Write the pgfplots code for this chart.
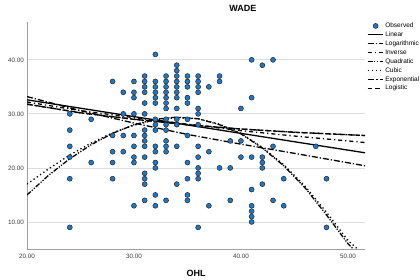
\documentclass[border=0pt]{standalone}
\usepackage{pgfplots}
\pgfplotsset{compat=1.18}
\usepackage{fontspec}
\setmainfont{Liberation Sans}
\definecolor{obsblue}{RGB}{31,119,200}
\definecolor{axgray}{RGB}{160,160,160}
\definecolor{gridgray}{RGB}{222,222,222}
\definecolor{ticktext}{RGB}{60,60,60}
\pgfplotsset{
  linelegend/.style={legend image code/.code={\draw[##1] (0pt,0pt) -- (15pt,0pt);}},
  obslegend/.style={legend image code/.code={\path[draw=none] (0pt,0pt) -- (15pt,0pt); \path[##1,draw=none] plot[only marks] coordinates {(8pt,0pt)};}},
  fitline/.style={black, line width=1.3pt, linelegend},
}
\begin{document}
\begin{tikzpicture}[x=1pt,y=1pt]
\useasboundingbox (0,0) rectangle (420,279);
\clip (0,0) rectangle (420,279);
\begin{axis}[
  at={(27pt,30pt)}, anchor=south west,
  scale only axis, width=338pt, height=227pt,
  xmin=20, xmax=51.6, ymin=5, ymax=47,
  xtick={20,30,40,50}, ytick={10,20,30,40},
  axis x line*=bottom, axis y line*=left,
  axis line style={draw=axgray, line width=1pt, -},
  major tick length=0pt,
  ymajorgrids, grid style={gridgray, line width=0.8pt},
  /pgf/number format/.cd, fixed, fixed zerofill, precision=2, assume math mode=true,
  /pgfplots/.cd,
  ticklabel style={font=\fontsize{6.3}{7}\selectfont, text=ticktext},
  yticklabel style={inner sep=0pt, xshift=-3pt},
  xticklabel style={inner sep=0pt, yshift=-4.5pt},
  title={WADE},
  title style={font=\bfseries\fontsize{9}{10}\selectfont, at={(axis description cs:0.639,1.035)}, anchor=center, inner sep=0pt},
  xlabel={OHL},
  xlabel style={font=\bfseries\fontsize{9}{10}\selectfont, at={(axis description cs:0.5,-0.106)}, anchor=center, inner sep=0pt},
  legend style={at={(axis description cs:1.0059,0.997)}, anchor=north west, draw=none, fill=none,
    font=\fontsize{6.5}{7}\selectfont, row sep=2.4pt, column sep=2pt, inner sep=0pt, outer sep=0pt,
    nodes={inner sep=0pt, text height=5pt, text depth=1.5pt}},
  legend cell align=left,
]
\addplot[only marks, mark=*, mark size=2.5pt, mark options={fill=obsblue, draw=black!85, line width=0.5pt}, obslegend]
table[row sep=\\] {
x y\\
24 30\\ 24 27\\ 24 24\\ 24 22\\ 24 18\\ 24 9\\
26 29\\ 26 21\\
28 36\\ 28 26\\ 28 23\\ 28 21\\ 28 18\\
29 34\\ 29 30\\ 29 26\\ 29 23\\
30 36\\ 30 34\\ 30 33\\ 30 30\\ 30 26\\ 30 24\\ 30 22\\ 30 21\\ 30 13\\
31 37\\ 31 36\\ 31 35\\ 31 34\\ 31 32\\ 31 30\\ 31 27\\ 31 26\\ 31 25\\ 31 24\\ 31 22\\ 31 19\\ 31 18\\ 31 17\\ 31 14\\
32 41\\ 32 36\\ 32 35\\ 32 34\\ 32 33\\ 32 32\\ 32 29\\ 32 28\\ 32 27\\ 32 24\\ 32 23\\ 32 21\\ 32 20\\ 32 15\\ 32 13\\
33 37\\ 33 36\\ 33 35\\ 33 34\\ 33 33\\ 33 32\\ 33 31\\ 33 29\\ 33 28\\ 33 27\\ 33 25\\ 33 24\\ 33 23\\ 33 14\\
34 39\\ 34 38\\ 34 37\\ 34 36\\ 34 35\\ 34 34\\ 34 33\\ 34 31\\ 34 29\\ 34 28\\ 34 24\\ 34 17\\
35 37\\ 35 36\\ 35 35\\ 35 33\\ 35 32\\ 35 29\\ 35 26\\ 35 21\\ 35 18\\ 35 15\\ 35 14\\
36 37\\ 36 36\\ 36 35\\ 36 34\\ 36 31\\ 36 30\\ 36 28\\ 36 24\\ 36 22\\ 36 20\\ 36 19\\ 36 18\\ 36 9\\
37 35\\ 37 23\\ 37 13\\
38 37\\ 38 36\\ 38 20\\
39 25\\ 39 20\\ 39 14\\
40 31\\ 40 25\\ 40 22\\
41 40\\ 41 33\\ 41 22\\ 41 16\\ 41 13\\ 41 12\\ 41 11\\ 41 10\\
42 39\\ 42 22\\ 42 21\\ 42 20\\ 42 17\\
43 40\\ 43 24\\ 43 14\\
44 18\\ 44 13\\
47 24\\
48 18\\ 48 9\\
};
\addlegendentry{Observed}
% Linear
\addplot[fitline] coordinates {(20,32.6) (51.6,22.8)};
\addlegendentry{Linear}
% Logarithmic
\addplot[fitline, dash pattern=on 6pt off 2pt on 1.2pt off 2pt] coordinates {(20,33.2) (25,30.6) (30,28.3) (35,26.2) (40,24.4) (45,22.7) (51.6,20.4)};
\addlegendentry{Logarithmic}
% Inverse
\addplot[fitline, dash pattern=on 4pt off 3pt on 1.2pt off 3pt] coordinates {(20,32.2) (25,30.6) (30,29.3) (35,28.1) (40,26.9) (45,25.9) (51.6,24.7)};
\addlegendentry{Inverse}
% Quadratic
\addplot[fitline, dash pattern=on 5pt off 1.5pt on 1.2pt off 1.5pt on 1.2pt off 1.5pt] coordinates {(20,15.0) (22,18.6) (24,21.7) (26,24.3) (28,26.4) (30,28.0) (32,29.0) (34,29.4) (36,29.1) (38,28.0) (40,26.3) (42,23.7) (44,20.4) (46,16.3) (48,11.3) (50,6.0) (50.5,5.0)};
\addlegendentry{Quadratic}
% Cubic
\addplot[fitline, dash pattern=on 1.3pt off 2.7pt] coordinates {(20,17.0) (22,19.8) (24,22.4) (26,24.6) (28,26.5) (30,27.9) (32,28.9) (34,29.3) (36,29.1) (38,28.1) (40,26.4) (42,23.8) (44,20.6) (46,16.6) (48,11.8) (50,6.6) (50.9,5.0)};
\addlegendentry{Cubic}
% Exponential
\addplot[fitline, dash pattern=on 6pt off 2pt on 2pt off 2pt] coordinates {(20,31.8) (25,30.2) (30,29.0) (35,28.0) (40,27.2) (45,26.6) (51.6,26.0)};
\addlegendentry{Exponential}
% Logistic
\addplot[fitline, dash pattern=on 4.5pt off 3pt] coordinates {(20,31.8) (25,30.2) (30,29.0) (35,28.0) (40,27.2) (45,26.6) (51.6,26.0)};
\addlegendentry{Logistic}
\end{axis}
\end{tikzpicture}
\end{document}
